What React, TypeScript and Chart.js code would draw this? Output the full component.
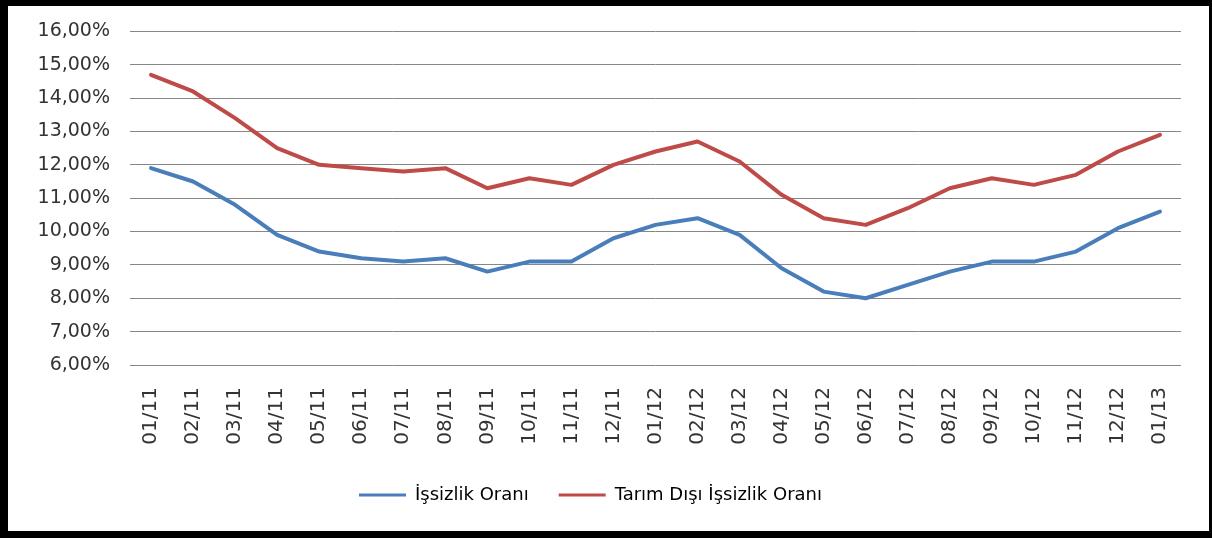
import React, { useEffect, useRef } from "react";
import { Chart, registerables } from "chart.js";

Chart.register(...registerables);

const categories = [
  "01/11", "02/11", "03/11", "04/11", "05/11", "06/11", "07/11", "08/11", "09/11", "10/11", "11/11", "12/11",
  "01/12", "02/12", "03/12", "04/12", "05/12", "06/12", "07/12", "08/12", "09/12", "10/12", "11/12", "12/12",
  "01/13",
];

const issizlikOrani = [
  11.9, 11.5, 10.8, 9.9, 9.4, 9.2, 9.1, 9.2, 8.8, 9.1, 9.1, 9.8,
  10.2, 10.4, 9.9, 8.9, 8.2, 8.0, 8.4, 8.8, 9.1, 9.1, 9.4, 10.1,
  10.6,
];

const tarimDisiOrani = [
  14.7, 14.2, 13.4, 12.5, 12.0, 11.9, 11.8, 11.9, 11.3, 11.6, 11.4, 12.0,
  12.4, 12.7, 12.1, 11.1, 10.4, 10.2, 10.7, 11.3, 11.6, 11.4, 11.7, 12.4,
  12.9,
];

const seriesNames = ["İşsizlik Oranı", "Tarım Dışı İşsizlik Oranı"];
const seriesColors = ["#4a7ebb", "#be4b48"];

const yMin = 6;
const yMax = 16;
const yStep = 1;

const FONT = "'DejaVu Sans', sans-serif";

export default function App() {
  const canvasRef = useRef<HTMLCanvasElement | null>(null);

  useEffect(() => {
    const canvas = canvasRef.current;
    if (!canvas) return;
    const chart = new Chart(canvas, {
      type: "line",
      data: {
        labels: categories,
        datasets: [issizlikOrani, tarimDisiOrani].map((d, i) => ({
          label: seriesNames[i],
          data: d,
          borderColor: seriesColors[i],
          backgroundColor: seriesColors[i],
          borderWidth: 4,
          pointRadius: 0,
          tension: 0,
          borderJoinStyle: "round" as const,
          borderCapStyle: "round" as const,
        })),
      },
      options: {
        animation: false,
        responsive: false,
        maintainAspectRatio: false,
        layout: { padding: { top: 29, right: 31, bottom: 24, left: 0 } },
        plugins: {
          tooltip: { enabled: false },
          legend: {
            position: "bottom",
            labels: {
              boxWidth: 47,
              boxHeight: 3,
              padding: 30,
              color: "#222",
              font: { family: FONT, size: 18 },
              generateLabels: (c: any) =>
                c.data.datasets.map((ds: any, i: number) => ({
                  text: ds.label,
                  fillStyle: seriesColors[i],
                  strokeStyle: seriesColors[i],
                  lineWidth: 0,
                  hidden: false,
                  datasetIndex: i,
                })),
            },
          },
        },
        scales: {
          x: {
            offset: true,
            grid: { display: false, drawTicks: false },
            border: { display: false },
            ticks: {
              minRotation: 90,
              maxRotation: 90,
              autoSkip: false,
              padding: 22,
              color: "#333",
              font: { family: FONT, size: 20 },
            },
            afterFit: (s: any) => {
              s.height = 91;
            },
          },
          y: {
            min: yMin,
            max: yMax,
            grid: { color: "#868686", lineWidth: 1, drawTicks: false },
            border: { display: false },
            ticks: {
              stepSize: yStep,
              padding: 20,
              color: "#333",
              font: { family: FONT, size: 19 },
              callback: (v: any) => Number(v).toFixed(2).replace(".", ",") + "%",
            },
            afterFit: (s: any) => {
              s.width = 130;
            },
          },
        },
      },
    });
    return () => chart.destroy();
  }, []);

  return (
    <div style={{ position: "fixed", left: 0, top: 0, width: 1212, height: 538, background: "#fff" }}>
      <canvas ref={canvasRef} width={1212} height={538} style={{ position: "absolute", left: 0, top: 0 }} />
      <div
        style={{
          position: "absolute",
          left: 0,
          top: 0,
          width: 1212,
          height: 538,
          boxSizing: "border-box",
          borderStyle: "solid",
          borderColor: "#000",
          borderWidth: "6px 3px 7px 8px",
          pointerEvents: "none",
        }}
      />
    </div>
  );
}
